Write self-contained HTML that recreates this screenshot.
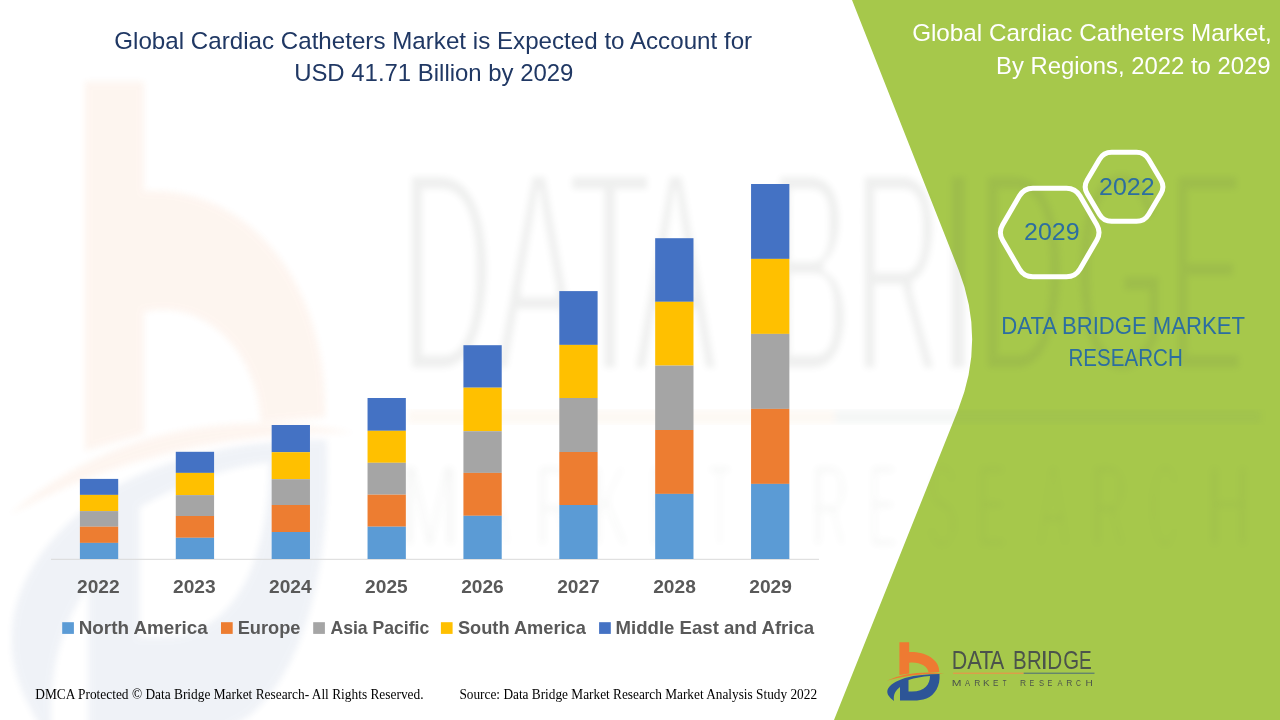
<!DOCTYPE html>
<html><head><meta charset="utf-8">
<style>
html,body{margin:0;padding:0;background:#fff;}
body{width:1280px;height:720px;overflow:hidden;}
svg{display:block;will-change:transform;}
text{font-family:"Liberation Sans",sans-serif;}
</style></head>
<body>
<svg width="1280" height="720" viewBox="0 0 1280 720">
<defs>
<filter id="bl" x="-5%" y="-5%" width="110%" height="110%"><feGaussianBlur stdDeviation="3"/></filter>
<filter id="bl2" x="-5%" y="-5%" width="110%" height="110%"><feMorphology operator="erode" radius="0.5 2.5"/><feGaussianBlur stdDeviation="3.5"/></filter>
<filter id="bl3" x="-5%" y="-5%" width="110%" height="110%"><feMorphology operator="erode" radius="0.5 4.5"/><feGaussianBlur stdDeviation="3"/></filter>
<g id="logoIcon">
<path d="M899.4,642.3 H909.2 V652 C925,651.5 939.5,659 939.3,672 L928.6,672.5 C928,666 919,661.5 909.2,662.7 V673.5 L899.4,675 Z" fill="#EE7A32"/>
<path d="M886.8,680.7 Q910,670 944.2,673.4 Q912,673.2 886.8,680.7 Z" fill="#EE7A32"/>
<path d="M894,701 C889,697 886.5,694 887.5,690 C889,685 896,681 905,678 C916,675 928,674 939.5,674 C940.5,686 935,695 926.5,698.5 C922,700 918,700.5 914,700.5 L900,700.5 L900,687 C896,690 893,694 894,701 Z M908.5,680 C915,678 922,676.5 930,676 C930,684 925,691.5 912,691.5 L908.5,691.5 Z" fill="#2D5597" fill-rule="evenodd"/>
</g>
<g id="logoDB">
<text transform="translate(951.74,669.4) scale(0.824,1)" font-size="26.02" fill="#4B534B">D</text>
<text transform="translate(967.36,669.4) scale(0.840,1)" font-size="26.02" fill="#4B534B">A</text>
<text transform="translate(979.60,669.4) scale(0.863,1)" font-size="26.02" fill="#4B534B">T</text>
<text transform="translate(990.36,669.4) scale(0.806,1)" font-size="26.02" fill="#4B534B">A</text>
<text transform="translate(1012.92,669.4) scale(0.787,1)" font-size="26.02" fill="#4B534B">B</text>
<text transform="translate(1026.93,669.4) scale(0.783,1)" font-size="26.02" fill="#4B534B">R</text>
<text transform="translate(1040.53,669.4) scale(1.030,1)" font-size="26.02" fill="#4B534B">I</text>
<text transform="translate(1047.30,669.4) scale(0.798,1)" font-size="26.02" fill="#4B534B">D</text>
<text transform="translate(1063.28,669.4) scale(0.783,1)" font-size="26.02" fill="#4B534B">G</text>
<text transform="translate(1079.04,669.4) scale(0.730,1)" font-size="26.02" fill="#4B534B">E</text>
</g>
<g id="logoLine">
<rect x="953" y="672.6" width="70.7" height="1.3" fill="#E39A4A"/>
<rect x="1023.7" y="672.6" width="70.8" height="1.3" fill="#5F7F6F"/>
</g>
<g id="logoMR">
<text transform="translate(951.74,685.8) scale(1.234,1)" font-size="9.45" fill="#4B534B">M</text>
<text transform="translate(964.89,685.8) scale(0.798,1)" font-size="9.45" fill="#4B534B">A</text>
<text transform="translate(974.21,685.8) scale(0.891,1)" font-size="9.45" fill="#4B534B">R</text>
<text transform="translate(983.09,685.8) scale(1.052,1)" font-size="9.45" fill="#4B534B">K</text>
<text transform="translate(992.93,685.8) scale(0.859,1)" font-size="9.45" fill="#4B534B">E</text>
<text transform="translate(1002.86,685.8) scale(0.636,1)" font-size="9.45" fill="#4B534B">T</text>
<text transform="translate(1019.91,685.8) scale(0.891,1)" font-size="9.45" fill="#4B534B">R</text>
<text transform="translate(1029.42,685.8) scale(0.742,1)" font-size="9.45" fill="#4B534B">E</text>
<text transform="translate(1039.05,685.8) scale(0.809,1)" font-size="9.45" fill="#4B534B">S</text>
<text transform="translate(1047.41,685.8) scale(0.762,1)" font-size="9.45" fill="#4B534B">E</text>
<text transform="translate(1057.49,685.8) scale(0.798,1)" font-size="9.45" fill="#4B534B">A</text>
<text transform="translate(1066.21,685.8) scale(0.891,1)" font-size="9.45" fill="#4B534B">R</text>
<text transform="translate(1075.96,685.8) scale(0.719,1)" font-size="9.45" fill="#4B534B">C</text>
<text transform="translate(1085.48,685.8) scale(1.061,1)" font-size="9.45" fill="#4B534B">H</text>
</g>
</defs>
<rect x="0" y="0" width="1280" height="720" fill="#ffffff"/>
<path d="M852,0 L958.65,270 Q986,340 958,410 L834,720 L1280,720 L1280,0 Z" fill="#A6C84B"/>
<g filter="url(#bl)" opacity="0.07"><use href="#logoIcon" transform="matrix(6.03,0,0,11.3,-5338.6,-7176.6)"/></g>
<g filter="url(#bl3)" opacity="0.085"><use href="#logoDB" transform="matrix(6.03,0,0,11.2,-5338.6,-7124.9)"/></g>
<g filter="url(#bl)" opacity="0.06"><use href="#logoLine" transform="matrix(6.03,0,0,10.7,-5338.6,-6787)"/></g>
<g filter="url(#bl2)" opacity="0.07"><use href="#logoMR" transform="matrix(6.03,0,0,12.5,-5338.6,-8025)"/></g>
<text transform="translate(114.22,48.50) scale(1.0204,1)" style="font-family:&quot;Liberation Sans&quot;;font-weight:normal" font-size="23.69" fill="#203864" >Global Cardiac Catheters Market is Expected to Account for</text>
<text transform="translate(294.14,80.60) scale(1.0040,1)" style="font-family:&quot;Liberation Sans&quot;;font-weight:normal" font-size="23.84" fill="#203864" >USD 41.71 Billion by 2029</text>
<text transform="translate(912.13,41.20) scale(1.0173,1)" style="font-family:&quot;Liberation Sans&quot;;font-weight:normal" font-size="23.84" fill="#ffffff" >Global Cardiac Catheters Market,</text>
<text transform="translate(995.98,73.80) scale(1.0082,1)" style="font-family:&quot;Liberation Sans&quot;;font-weight:normal" font-size="23.69" fill="#ffffff" >By Regions, 2022 to 2029</text>
<path d="M1002.64,240.27 Q998.10,232.50 1002.64,224.73 L1019.36,196.07 Q1023.90,188.30 1032.90,188.30 L1066.50,188.30 Q1075.50,188.30 1080.04,196.07 L1096.76,224.73 Q1101.30,232.50 1096.76,240.27 L1080.04,268.93 Q1075.50,276.70 1066.50,276.70 L1032.90,276.70 Q1023.90,276.70 1019.36,268.93 Z" fill="none" stroke="#fff" stroke-width="5"/>
<path d="M1087.23,193.68 Q1083.15,186.80 1087.23,179.92 L1099.52,159.18 Q1103.60,152.30 1111.60,152.30 L1136.50,152.30 Q1144.50,152.30 1148.58,159.18 L1160.87,179.92 Q1164.95,186.80 1160.87,193.68 L1148.58,214.42 Q1144.50,221.30 1136.50,221.30 L1111.60,221.30 Q1103.60,221.30 1099.52,214.42 Z" fill="none" stroke="#fff" stroke-width="5"/>
<text transform="translate(1024.06,240.40) scale(1.0727,1)" style="font-family:&quot;Liberation Sans&quot;;font-weight:normal" font-size="23.26" fill="#2C6EA0" >2029</text>
<text transform="translate(1099.07,194.60) scale(1.0673,1)" style="font-family:&quot;Liberation Sans&quot;;font-weight:normal" font-size="23.4" fill="#2C6EA0" >2022</text>
<text transform="translate(1001.31,333.90) scale(0.8956,1)" style="font-family:&quot;Liberation Sans&quot;;font-weight:normal" font-size="24.71" fill="#2C6EA0" >DATA BRIDGE MARKET</text>
<text transform="translate(1068.51,365.60) scale(0.8474,1)" style="font-family:&quot;Liberation Sans&quot;;font-weight:normal" font-size="24.27" fill="#2C6EA0" >RESEARCH</text>
<rect x="51" y="558.8" width="768" height="1" fill="#D9D9D9"/>
<rect x="79.90" y="478.90" width="38.3" height="16.00" fill="#4472C4"/>
<rect x="79.90" y="494.90" width="38.3" height="16.20" fill="#FFC000"/>
<rect x="79.90" y="511.10" width="38.3" height="15.60" fill="#A5A5A5"/>
<rect x="79.90" y="526.70" width="38.3" height="16.20" fill="#ED7D31"/>
<rect x="79.90" y="542.90" width="38.3" height="16.10" fill="#5B9BD5"/>
<text transform="translate(77.03,592.90) scale(1.0211,1)" style="font-family:&quot;Liberation Sans&quot;;font-weight:bold" font-size="18.75" fill="#595959" >2022</text>
<rect x="175.78" y="451.80" width="38.3" height="21.10" fill="#4472C4"/>
<rect x="175.78" y="472.90" width="38.3" height="22.20" fill="#FFC000"/>
<rect x="175.78" y="495.10" width="38.3" height="20.90" fill="#A5A5A5"/>
<rect x="175.78" y="516.00" width="38.3" height="21.80" fill="#ED7D31"/>
<rect x="175.78" y="537.80" width="38.3" height="21.20" fill="#5B9BD5"/>
<text transform="translate(173.06,592.90) scale(1.0211,1)" style="font-family:&quot;Liberation Sans&quot;;font-weight:bold" font-size="18.75" fill="#595959" >2023</text>
<rect x="271.66" y="425.00" width="38.3" height="27.20" fill="#4472C4"/>
<rect x="271.66" y="452.20" width="38.3" height="27.00" fill="#FFC000"/>
<rect x="271.66" y="479.20" width="38.3" height="25.80" fill="#A5A5A5"/>
<rect x="271.66" y="505.00" width="38.3" height="27.00" fill="#ED7D31"/>
<rect x="271.66" y="532.00" width="38.3" height="27.00" fill="#5B9BD5"/>
<text transform="translate(269.09,592.90) scale(1.0211,1)" style="font-family:&quot;Liberation Sans&quot;;font-weight:bold" font-size="18.75" fill="#595959" >2024</text>
<rect x="367.54" y="398.00" width="38.3" height="32.80" fill="#4472C4"/>
<rect x="367.54" y="430.80" width="38.3" height="32.00" fill="#FFC000"/>
<rect x="367.54" y="462.80" width="38.3" height="31.90" fill="#A5A5A5"/>
<rect x="367.54" y="494.70" width="38.3" height="32.00" fill="#ED7D31"/>
<rect x="367.54" y="526.70" width="38.3" height="32.30" fill="#5B9BD5"/>
<text transform="translate(365.12,592.90) scale(1.0211,1)" style="font-family:&quot;Liberation Sans&quot;;font-weight:bold" font-size="18.75" fill="#595959" >2025</text>
<rect x="463.42" y="345.20" width="38.3" height="42.50" fill="#4472C4"/>
<rect x="463.42" y="387.70" width="38.3" height="43.50" fill="#FFC000"/>
<rect x="463.42" y="431.20" width="38.3" height="41.70" fill="#A5A5A5"/>
<rect x="463.42" y="472.90" width="38.3" height="42.90" fill="#ED7D31"/>
<rect x="463.42" y="515.80" width="38.3" height="43.20" fill="#5B9BD5"/>
<text transform="translate(461.15,592.90) scale(1.0211,1)" style="font-family:&quot;Liberation Sans&quot;;font-weight:bold" font-size="18.75" fill="#595959" >2026</text>
<rect x="559.30" y="291.10" width="38.3" height="53.80" fill="#4472C4"/>
<rect x="559.30" y="344.90" width="38.3" height="53.10" fill="#FFC000"/>
<rect x="559.30" y="398.00" width="38.3" height="54.00" fill="#A5A5A5"/>
<rect x="559.30" y="452.00" width="38.3" height="53.00" fill="#ED7D31"/>
<rect x="559.30" y="505.00" width="38.3" height="54.00" fill="#5B9BD5"/>
<text transform="translate(557.18,592.90) scale(1.0211,1)" style="font-family:&quot;Liberation Sans&quot;;font-weight:bold" font-size="18.75" fill="#595959" >2027</text>
<rect x="655.18" y="238.20" width="38.3" height="63.60" fill="#4472C4"/>
<rect x="655.18" y="301.80" width="38.3" height="63.80" fill="#FFC000"/>
<rect x="655.18" y="365.60" width="38.3" height="64.40" fill="#A5A5A5"/>
<rect x="655.18" y="430.00" width="38.3" height="63.90" fill="#ED7D31"/>
<rect x="655.18" y="493.90" width="38.3" height="65.10" fill="#5B9BD5"/>
<text transform="translate(653.21,592.90) scale(1.0211,1)" style="font-family:&quot;Liberation Sans&quot;;font-weight:bold" font-size="18.75" fill="#595959" >2028</text>
<rect x="751.06" y="184.00" width="38.3" height="74.90" fill="#4472C4"/>
<rect x="751.06" y="258.90" width="38.3" height="75.00" fill="#FFC000"/>
<rect x="751.06" y="333.90" width="38.3" height="75.00" fill="#A5A5A5"/>
<rect x="751.06" y="408.90" width="38.3" height="75.00" fill="#ED7D31"/>
<rect x="751.06" y="483.90" width="38.3" height="75.10" fill="#5B9BD5"/>
<text transform="translate(749.24,592.90) scale(1.0211,1)" style="font-family:&quot;Liberation Sans&quot;;font-weight:bold" font-size="18.75" fill="#595959" >2029</text>
<rect x="62.2" y="622.2" width="11.7" height="11.7" fill="#5B9BD5"/>
<text transform="translate(78.70,633.75) scale(1.0372,1)" style="font-family:&quot;Liberation Sans&quot;;font-weight:bold" font-size="18.17" fill="#595959" >North America</text>
<rect x="221.0" y="622.2" width="11.7" height="11.7" fill="#ED7D31"/>
<text transform="translate(237.64,633.75) scale(1.0041,1)" style="font-family:&quot;Liberation Sans&quot;;font-weight:bold" font-size="18.17" fill="#595959" >Europe</text>
<rect x="313.2" y="622.2" width="11.7" height="11.7" fill="#A5A5A5"/>
<text transform="translate(330.42,633.75) scale(0.9693,1)" style="font-family:&quot;Liberation Sans&quot;;font-weight:bold" font-size="18.17" fill="#595959" >Asia Pacific</text>
<rect x="440.9" y="622.2" width="11.7" height="11.7" fill="#FFC000"/>
<text transform="translate(457.90,633.75) scale(1.0047,1)" style="font-family:&quot;Liberation Sans&quot;;font-weight:bold" font-size="18.17" fill="#595959" >South America</text>
<rect x="599.1" y="622.2" width="11.7" height="11.7" fill="#4472C4"/>
<text transform="translate(615.52,633.75) scale(1.0238,1)" style="font-family:&quot;Liberation Sans&quot;;font-weight:bold" font-size="18.17" fill="#595959" >Middle East and Africa</text>
<text transform="translate(35.31,698.60) scale(0.9748,1)" style="font-family:&quot;Liberation Serif&quot;;font-weight:normal" font-size="13.74" fill="#000000" >DMCA Protected © Data Bridge Market Research- All Rights Reserved.</text>
<text transform="translate(459.42,699.30) scale(0.9802,1)" style="font-family:&quot;Liberation Serif&quot;;font-weight:normal" font-size="13.59" fill="#000000" >Source: Data Bridge Market Research Market Analysis Study 2022</text>
<use href="#logoIcon"/><use href="#logoDB"/><use href="#logoLine"/><use href="#logoMR"/>
</svg>
</body></html>
